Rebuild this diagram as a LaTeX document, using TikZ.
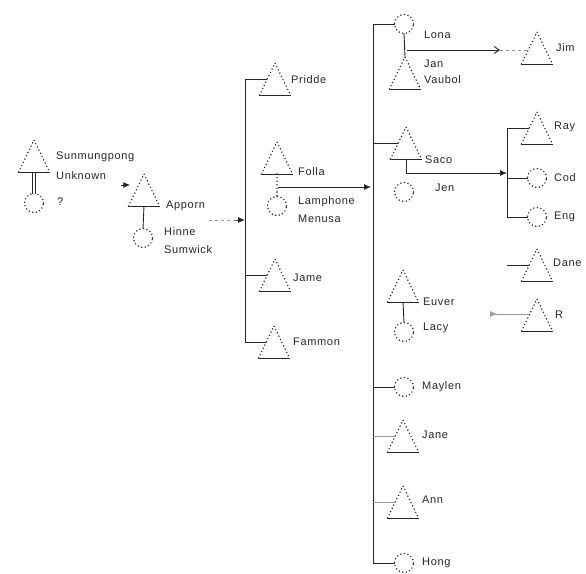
\documentclass[tikz,border=0pt]{standalone}
\usepackage{fontspec}
\setmainfont{Liberation Sans}
\usetikzlibrary{positioning,calc,arrows.meta}
\definecolor{scanInk}{HTML}{262626}
\definecolor{scanFaint}{HTML}{9A9A9A}

\tikzset{
  dotline/.style={draw=scanInk, line width=1.6pt, line cap=round, dash pattern=on 0pt off 3.6pt},
  ink/.style={draw=scanInk, line width=0.9pt},
  faint/.style={draw=scanFaint, line width=0.7pt},
  male/.style={minimum width=15.5pt, minimum height=32pt, inner sep=0pt, outer sep=0pt},
  female/.style={circle, dotline, minimum size=19pt, inner sep=0pt, outer sep=0pt},
  nm/.style={anchor=west, inner sep=1pt, text=scanInk,
    font=\fontsize{11}{12}\selectfont\addfontfeature{LetterSpace=6}},
  arr/.style={ink, -{Latex[length=7pt,width=6pt]}},
}

\begin{document}
\begin{tikzpicture}[x=1pt, y=-1pt]
\useasboundingbox (0,0) rectangle (586,573);

% --- BAR POSITIONS ---
\coordinate (bar2) at (245,0);
\coordinate (bar3) at (373,0);
\coordinate (bar4) at (507,0);

% --- FIRST GENERATION ---
\node[male]   (sun)     at (34,156) {};
\node[female] (sunwife) at (34,203) {};
\node[nm] (sun-t1) at (55,157) {Sunmungpong};
\node[nm] (sun-t2) at (55,176) {Unknown};
\node[nm] (sun-q)  at (56,202) {?};
\draw[ink, double=white, double distance=2.5pt, line width=0.7pt] (sun) -- (sunwife);

% --- SECOND GENERATION ---
\node[male]   (apporn) at (144,190) {};
\node[female] (hinne)  at (143,238) {};
\node[nm] (apporn-t) at (165,206) {Apporn};
\node[nm] (hinne-t1) at (163,232) {Hinne};
\node[nm] (hinne-t2) at (163,250) {Sumwick};
\coordinate (sun-out) at (121,185);
\draw[arr, shorten >=6pt] (sun-out) -- (sun-out -| apporn.west);
\draw[ink] (apporn.south) -- (hinne.north);
\coordinate (app-out) at (209,220);
\draw[faint, dashed] (app-out) -- ($(app-out -| bar2)+(-8,0)$);
\draw[arr, shorten <=27pt] (app-out) -- (app-out -| bar2);

% --- THIRD GENERATION ---
\node[male] (pridde) at (275,79) {};
\node[male] (folla)  at (277,158) {};
\node[female] (lamphone) at (277,206) {};
\node[male] (jame)   at (275,275) {};
\node[male] (fammon) at (274,342) {};
\node[nm] (pridde-t) at (290,80) {Pridde};
\node[nm] (folla-t)  at (297,172) {Folla};
\node[nm] (lamp-t1)  at (297,202) {Lamphone};
\node[nm] (lamp-t2)  at (297,219) {Menusa};
\node[nm] (jame-t)   at (292,278) {Jame};
\node[nm] (fammon-t) at (292,342) {Fammon};
\draw[ink] (pridde.west) -- (pridde.west -| bar2) -- (fammon.west -| bar2) -- (fammon.west);
\draw[ink] (jame.west -| bar2) -- (jame.west);
\draw[dotline] (folla.south) -- (lamphone.north);
\coordinate (fola-out) at (278,187);
\draw[arr, shorten >=2pt] (fola-out) -- (fola-out -| bar3);

% --- FOURTH GENERATION ---
\node[female] (lona)   at (404,24) {};
\node[male]   (jan)    at (405,73) {};
\node[male]   (saco)   at (406,143) {};
\node[female] (jen)    at (404,192) {};
\node[male]   (euver)  at (403,286) {};
\node[female] (lacy)   at (404,332) {};
\node[female] (maylen) at (404,387) {};
\node[male]   (jane)   at (403,436) {};
\node[male]   (ann)    at (403,502) {};
\node[female] (hong)   at (404,563) {};
\node[nm] (lona-t)   at (423,35)  {Lona};
\node[nm] (jan-t1)   at (423,64)  {Jan};
\node[nm] (jan-t2)   at (423,80)  {Vaubol};
\node[nm] (saco-t)   at (424,160) {Saco};
\node[nm] (jen-t)    at (434,188) {Jen};
\node[nm] (euver-t)  at (422,302) {Euver};
\node[nm] (lacy-t)   at (422,328) {Lacy};
\node[nm] (maylen-t) at (421,387) {Maylen};
\node[nm] (jane-t)   at (421,435) {Jane};
\node[nm] (ann-t)    at (421,500) {Ann};
\node[nm] (hong-t)   at (421,563) {Hong};
\draw[ink] (lona.west) -- (lona.west -| bar3) -- (hong.west -| bar3) -- (hong.west);
\foreach \kid in {saco, maylen} {
  \draw[ink] (\kid.west -| bar3) -- (\kid.west);
}
\foreach \kid in {jane, ann} {
  \draw[faint] (\kid.west -| bar3) -- (\kid.west);
}
\draw[ink] (lona.south) -- (jan.north);
\draw[ink] (euver.south) -- (lacy.north);

% --- LONA -> JIM ---
\node[male] (jim) at (537,48) {};
\node[nm] (jim-t) at (555,48) {Jim};
\coordinate (lona-out) at (407,50);
\coordinate (jim-in) at (500,50);
\draw[ink, -{Straight Barb[length=5pt,width=7pt]}] (lona-out) -- (jim-in);
\draw[faint, dashed] (jim-in) -- (jim-in -| jim.west);

% --- SACO -> FIFTH GENERATION ---
\node[male]   (ray)  at (537,128) {};
\node[female] (cod)  at (537,178) {};
\node[female] (eng)  at (537,217) {};
\node[male]   (dane) at (537,265) {};
\node[male]   (r)    at (537,315) {};
\node[nm] (ray-t)  at (553,127) {Ray};
\node[nm] (cod-t)  at (553,178) {Cod};
\node[nm] (eng-t)  at (553,217) {Eng};
\node[nm] (dane-t) at (552,263) {Dane};
\node[nm] (r-t)    at (554,315) {R};
\draw[arr] (saco.south) |- ($(saco.south -| bar4)+(0,14)$);
\draw[ink] (ray.west) -- (ray.west -| bar4) -- (eng.west -| bar4) -- (eng.west);
\draw[ink] (cod.west -| bar4) -- (cod.west);
\draw[ink] (dane.west -| bar4) -- (dane.west);
\coordinate (r-in) at (490,314);
\draw[faint, {Latex[reversed,length=7pt,width=6pt]}-] (r-in) -- (r-in -| r.west);

% --- TRIANGLE SYMBOLS (dotted sides, solid base) ---
\foreach \m in {sun, apporn, pridde, folla, jame, fammon, jan, saco,
                euver, jane, ann, jim, ray, dane, r} {
  \draw[dotline] ([xshift=-7.75pt]\m.south west) -- (\m.north)
    -- ([xshift=7.75pt]\m.south east);
  \draw[ink] ([xshift=-7.75pt]\m.south west) -- ([xshift=7.75pt]\m.south east);
}

\end{tikzpicture}
\end{document}
